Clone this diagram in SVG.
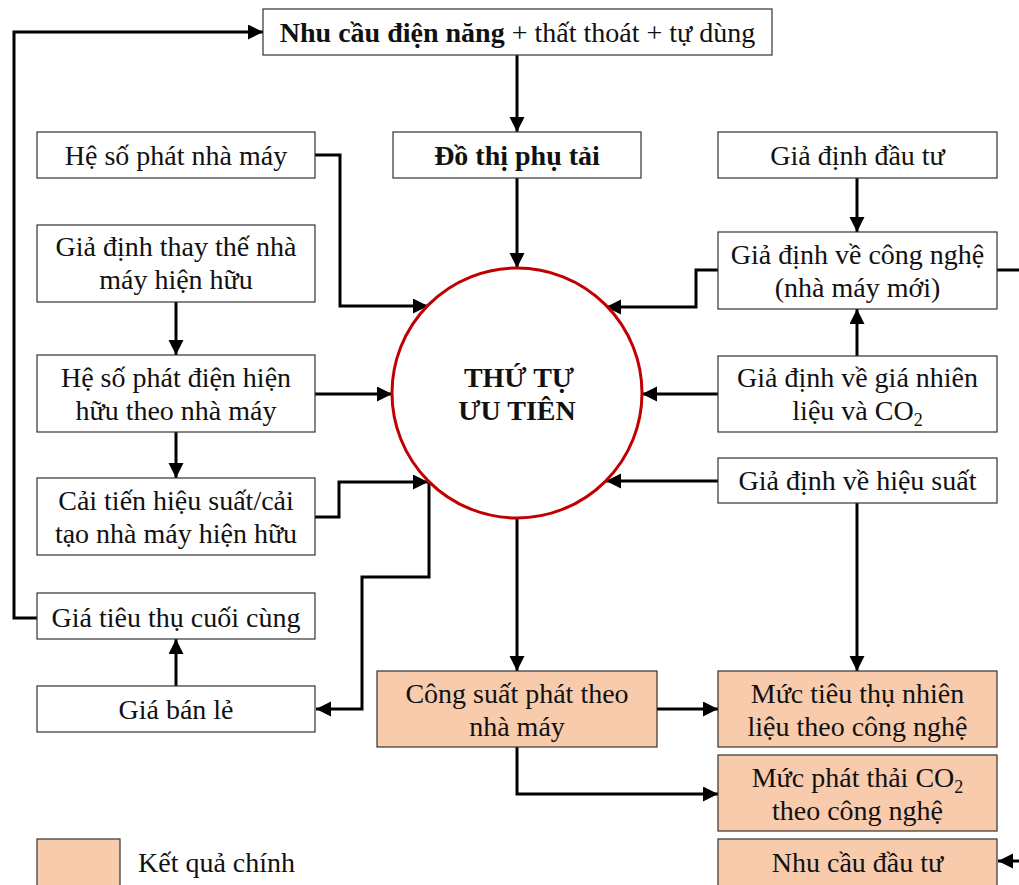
<svg xmlns="http://www.w3.org/2000/svg" width="1019" height="885" viewBox="0 0 1019 885">
<defs>
<marker id="ah" markerUnits="userSpaceOnUse" markerWidth="16" markerHeight="16" refX="15" refY="7.5" orient="auto">
<path d="M0,0 L15,7.5 L0,15 z" fill="#000"/>
</marker>
<style>
.box{fill:#fff;stroke:#333;stroke-width:1.2}
.res{fill:#F8CBAD;stroke:#333;stroke-width:1.2}
.t{font-size:28px;fill:#111;text-anchor:middle}
.b{font-weight:bold}
.c{fill:none;stroke:#000;stroke-width:3}
.a{marker-end:url(#ah)}
</style>
</defs>
<rect width="1019" height="885" fill="#fff"/>

<g id="connectors">
<path class="c a" d="M37,618 H14 V32 H263"/>
<path class="c a" d="M517,55 V132"/>
<path class="c a" d="M517,178 V268"/>
<path class="c a" d="M315,155 H340 V306 H428"/>
<path class="c a" d="M176,302 V355"/>
<path class="c a" d="M315,394 H392"/>
<path class="c a" d="M176,432 V478"/>
<path class="c a" d="M315,517 H339 V482 H428"/>
<path class="c a" d="M429,481 V577 H362 V709 H316"/>
<path class="c a" d="M176,686 V639"/>
<path class="c a" d="M857,178 V232"/>
<path class="c a" d="M857,356 V309"/>
<path class="c a" d="M718,270 H696 V307 H606"/>
<path class="c" d="M997,270 H1019"/>
<path class="c a" d="M718,394 H642"/>
<path class="c a" d="M718,481 H606"/>
<path class="c a" d="M857,503 V671"/>
<path class="c a" d="M517,518 V671"/>
<path class="c a" d="M657,709 H718"/>
<path class="c a" d="M517,747 V794 H718"/>
<path class="c a" d="M1019,861 H998"/>
</g>

<g font-family="'Liberation Serif', 'Times New Roman', serif">
<g id="n-nhucau">
<rect class="box" x="263" y="9" width="509" height="46"/>
<text class="t" x="517.5" y="42"><tspan class="b">Nhu cầu điện năng</tspan> + thất thoát + tự dùng</text>
</g>
<g id="n-dothi">
<rect class="box" x="393" y="132" width="248" height="46"/>
<text class="t b" x="517" y="165">Đồ thị phụ tải</text>
</g>
<g id="n-thutu">
<circle cx="517" cy="393" r="125" fill="#fff" stroke="#C00000" stroke-width="3"/>
<text class="t b" x="519" y="387">THỨ TỰ</text>
<text class="t b" x="517" y="420">ƯU TIÊN</text>
</g>

<g id="n-hesophat">
<rect class="box" x="37" y="132" width="278" height="46"/>
<text class="t" x="176" y="165">Hệ số phát nhà máy</text>
</g>
<g id="n-thaythe">
<rect class="box" x="37" y="225" width="278" height="77"/>
<text class="t" x="176" y="256">Giả định thay thế nhà</text>
<text class="t" x="176" y="289">máy hiện hữu</text>
</g>
<g id="n-hesohienhuu">
<rect class="box" x="37" y="355" width="278" height="77"/>
<text class="t" x="176" y="387">Hệ số phát điện hiện</text>
<text class="t" x="176" y="420">hữu theo nhà máy</text>
</g>
<g id="n-caitien">
<rect class="box" x="37" y="478" width="278" height="77"/>
<text class="t" x="176" y="510">Cải tiến hiệu suất/cải</text>
<text class="t" x="176" y="543">tạo nhà máy hiện hữu</text>
</g>
<g id="n-giatieuthu">
<rect class="box" x="37" y="593" width="278" height="46"/>
<text class="t" x="176" y="627">Giá tiêu thụ cuối cùng</text>
</g>
<g id="n-giabanle">
<rect class="box" x="37" y="686" width="278" height="46"/>
<text class="t" x="176" y="719">Giá bán lẻ</text>
</g>

<g id="n-dautu">
<rect class="box" x="718" y="132" width="279" height="46"/>
<text class="t" x="857.5" y="165">Giả định đầu tư</text>
</g>
<g id="n-congnghe">
<rect class="box" x="718" y="232" width="279" height="77"/>
<text class="t" x="857.5" y="264">Giả định về công nghệ</text>
<text class="t" x="857.5" y="297">(nhà máy mới)</text>
</g>
<g id="n-gianhienlieu">
<rect class="box" x="718" y="356" width="279" height="76"/>
<text class="t" x="857.5" y="387">Giả định về giá nhiên</text>
<text class="t" x="857.5" y="420">liệu và CO<tspan font-size="18" dy="6">2</tspan></text>
</g>
<g id="n-hieusuat">
<rect class="box" x="718" y="458" width="279" height="45"/>
<text class="t" x="857.5" y="490">Giả định về hiệu suất</text>
</g>

<g id="n-congsuat">
<rect class="res" x="377" y="671" width="280" height="76"/>
<text class="t" x="517" y="703">Công suất phát theo</text>
<text class="t" x="517" y="736">nhà máy</text>
</g>
<g id="n-tieuthu">
<rect class="res" x="718" y="671" width="279" height="76"/>
<text class="t" x="857.5" y="703">Mức tiêu thụ nhiên</text>
<text class="t" x="857.5" y="736">liệu theo công nghệ</text>
</g>
<g id="n-phatthai">
<rect class="res" x="718" y="755" width="279" height="76"/>
<text class="t" x="857.5" y="787">Mức phát thải CO<tspan font-size="18" dy="6">2</tspan></text>
<text class="t" x="857.5" y="820">theo công nghệ</text>
</g>
<g id="n-nhucaudautu">
<rect class="res" x="718" y="839" width="279" height="60"/>
<text class="t" x="857.5" y="872">Nhu cầu đầu tư</text>
</g>

<g id="legend">
<rect class="res" x="37" y="839" width="83" height="60"/>
<text class="t" x="138" y="872" style="text-anchor:start">Kết quả chính</text>
</g>
</g>
</svg>
